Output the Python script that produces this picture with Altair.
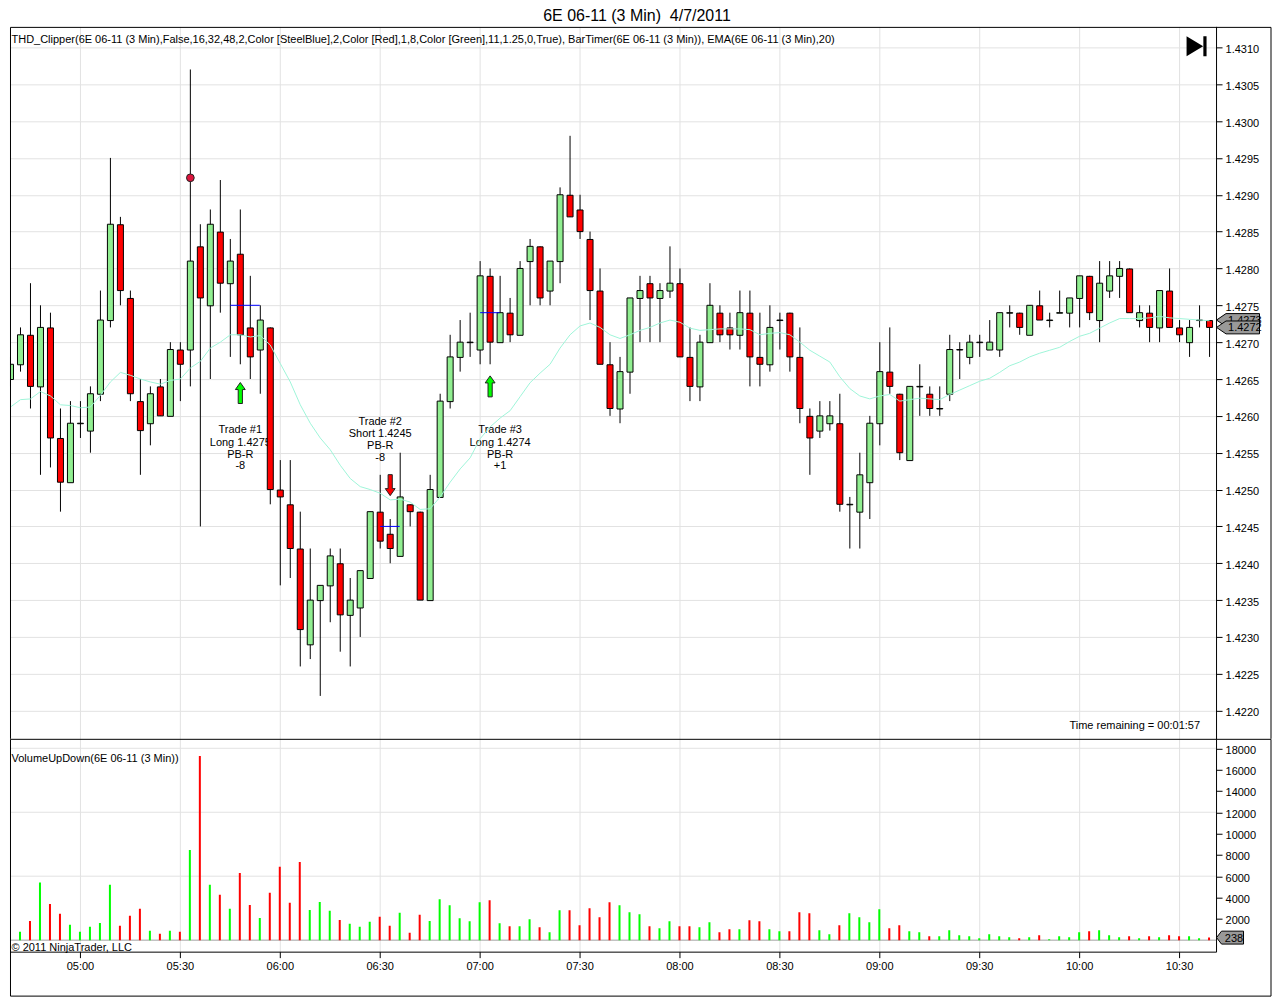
import altair as alt
import pandas as pd

FONT = "Liberation Sans"
TITLE = "6E 06-11 (3 Min) \u00a04/7/2011"
INDICATORS = "THD_Clipper(6E 06-11 (3 Min),False,16,32,48,2,Color [SteelBlue],2,Color [Red],1,8,Color [Green],11,1.25,0,True), BarTimer(6E 06-11 (3 Min)), EMA(6E 06-11 (3 Min),20)"
VOL_LABEL = "VolumeUpDown(6E 06-11 (3 Min))"
COPYRIGHT = "\u00a9 2011 NinjaTrader, LLC"
TIMER = "Time remaining = 00:01:57"

# prices are written as pips above 1.4000
opens = [265,267,271,264,272,257,251,259,258,263,
         273,286,276,262,259,264,260,269,269,283,
         275,285,278,282,272,269,272,250,248,242,
         229,235,237,240,233,234,238,247,244,241,
         248,247,235,249,262,268,270,269,279,270,
         274,271,281,283,277,281,290,288,284,277,
         267,261,266,276,278,276,277,278,268,264,
         270,274,272,271,274,268,267,273,274,268,
         260,258,259,259,248,247,251,259,266,263,
         254,264,263,261,263,269,268,270,269,269,
         274,274,271,275,273,274,274,276,279,273,
         277,279,280,273,274,272,277,272,270,273,273]
highs = [268,272,278,275,274,261,262,262,264,277,
         295,287,277,265,264,265,270,270,307,286,
         288,292,284,288,279,275,272,254,254,247,
         242,237,242,242,238,239,247,252,246,255,
         248,247,252,263,271,273,274,281,280,279,
         276,281,284,283,281,291,298,290,285,280,
         270,268,276,279,279,278,283,280,272,271,
         278,275,274,277,277,274,275,274,274,272,
         261,262,262,263,249,255,260,270,272,263,
         264,267,264,264,271,270,271,271,273,274,
         275,274,275,277,274,277,276,279,279,281,
         281,281,280,275,275,277,280,273,273,275,273]
lows = [264,266,261,252,253,247,251,257,255,262,
        272,275,262,252,256,260,260,262,264,245,
        265,274,268,267,265,263,248,237,238,226,
        227,222,232,228,226,230,238,242,240,241,
        245,235,235,249,261,266,268,267,267,270,
        270,271,275,275,275,278,287,284,273,267,
        260,259,263,270,270,270,276,268,262,262,
        270,270,269,269,264,264,266,269,266,259,
        252,257,258,247,242,242,246,256,263,254,
        254,260,260,260,262,265,267,268,269,268,
        272,271,271,273,272,274,272,272,273,270,
        276,276,274,272,270,270,272,270,268,272,268]
closes = [267,271,264,272,257,251,259,259,263,273,
          286,277,263,258,263,260,269,267,281,276,
          286,278,281,271,268,273,250,249,242,231,
          235,237,241,233,235,239,247,243,242,249,
          247,235,250,262,268,270,270,279,270,274,
          271,280,283,276,281,290,287,285,277,267,
          261,266,276,277,276,277,278,268,264,270,
          275,271,271,274,268,267,272,273,268,261,
          257,260,260,248,248,252,259,266,264,255,
          264,264,261,261,269,269,270,270,270,274,
          274,272,275,273,273,274,276,279,274,278,
          279,280,274,274,272,277,272,271,272,273,272]
ema = [261.2,262.2,262.3,263.3,262.7,261.5,261.4,261.1,261.2,262.8,
       264.6,265.9,265.5,265.0,264.6,264.3,264.8,265.0,266.5,267.4,
       269.2,270.0,271.0,271.0,270.7,270.9,269.6,267.1,264.6,261.5,
       259.0,257.0,255.4,253.3,251.5,250.4,250.0,249.5,248.6,248.7,
       248.3,247.3,247.4,249.0,251.0,252.8,254.3,256.9,258.5,259.7,
       260.7,262.6,264.5,265.8,267.0,269.2,271.0,272.2,272.6,272.0,
       271.0,270.5,271.0,271.6,272.0,272.6,273.0,272.7,271.9,271.6,
       271.7,271.8,271.8,271.8,271.7,271.0,271.2,271.3,271.0,270.0,
       268.9,268.1,267.3,265.3,263.7,262.7,262.3,262.7,262.9,262.0,
       262.2,262.4,262.3,262.2,262.9,263.5,264.1,264.7,265.1,265.9,
       266.8,267.3,268.0,268.5,268.9,269.3,270.1,270.8,271.2,271.9,
       272.6,273.2,273.2,273.2,273.3,273.5,273.3,273.2,273.1,273.0,272.9]
volumes = [310,780,1800,5400,3400,2470,1440,780,1250,1620,
           5200,1340,2280,2940,880,600,880,780,8470,17280,
           5190,4250,2940,6310,3310,2090,4440,6880,3500,7340,
           2840,3590,2750,1900,1530,1250,1720,2190,1340,2560,
           690,2375,1790,3840,3280,2060,1780,3560,3750,1590,
           1310,1310,1970,1220,750,2810,2810,1400,3000,2160,
           3560,3280,2625,2440,1310,1125,1780,1310,1310,1220,
           1690,750,1030,1030,1875,1780,1030,840,840,2625,
           2530,940,560,1400,2530,2160,1690,2900,1125,1400,
           840,750,375,375,940,470,375,190,560,375,
           280,190,280,470,90,375,280,750,840,940,
           470,280,375,190,375,280,470,375,375,190,238]
vol_dirs = "".join(["ggrgrrgggg","grrrgrgrgr","grgrrgrrrr","gggrgggrrg","rrggggggrg","rggrggrrrr",
                    "rgggrggrrg","grrgrrggrr","rggrggggrr","ggrggggggg","grgrggggrg","ggrgrgrrggr"])

x_ticks = [7, 17, 27, 37, 47, 57, 67, 77, 87, 97, 107, 117]
x_labels = ["05:00","05:30","06:00","06:30","07:00","07:30","08:00","08:30","09:00","09:30","10:00","10:30"]
price_ticks = [1.4220,1.4225,1.4230,1.4235,1.4240,1.4245,1.4250,1.4255,1.4260,1.4265,1.4270,1.4275,1.4280,1.4285,1.4290,1.4295,1.4300,1.4305,1.4310]
vol_ticks = [2000,4000,6000,8000,10000,12000,14000,16000,18000]
vol_grid = [6000,12000,18000]

trade_i = [23,23,23,23, 37,37,37,37, 49,49,49,49]
trade_p = [258.3,256.65,255.0,253.4, 259.5,257.87,256.2,254.6, 258.3,256.65,255.0,253.4]
trade_txt = ["Trade #1","Long 1.4275","PB-R","-8","Trade #2","Short 1.4245","PB-R","-8","Trade #3","Long 1.4274","PB-R","+1"]
entry_i = [22,37,47]
entry_i2 = [25,39,49]
entry_p = [275,245,274]
up_i = [23,48]
up_p = [263.1,264.0]
down_i = [38]
down_p = [250.6]
dot_i = [18]
dot_p = [292.3]
tag_p = [273,272]
tag_txt = ["1.4273","1.4272"]
last_vol = 238

def px(v):
    return 1.4 + v / 10000

n = len(opens)
bars = pd.DataFrame({
    "i": list(range(n)),
    "o": [px(v) for v in opens], "h": [px(v) for v in highs],
    "l": [px(v) for v in lows], "c": [px(v) for v in closes],
    "ema": [px(v) for v in ema],
    "vol": volumes,
    "fill": ["#90EE90" if c >= o else "#FF0000" for o, c in zip(opens, closes)],
    "vcol": ["#00FF00" if d == "g" else "#FF0000" for d in vol_dirs],
})

W, H1, H2 = 1207, 713, 213
RIGHT = 1262
LEFT = 0.5
LINE = "#e2e2e2"
TY = 2  # text sits this many pixels lower than Vega's middle baseline
xs = alt.Scale(domain=[0, 120.7], nice=False, zero=False, padding=0)
ys = alt.Scale(domain=[1.4216180, 1.4312847], nice=False, zero=False, padding=0)
vs = alt.Scale(domain=[-1078, 18891], nice=False, zero=False, padding=0)
label_expr = "[" + ",".join(f"'{s}'" for s in x_labels) + "][(datum.value-7)/10]"
XO = 0.5

axis_top_x = alt.Axis(values=x_ticks, labels=False, ticks=False, domain=False, grid=True, gridColor=LINE, title=None)
axis_top_y = alt.Axis(orient="right", values=price_ticks, format=".4f", grid=True, gridColor=LINE, domainColor="black",
                      tickColor="black", tickSize=6, labelFont=FONT, labelFontSize=11, labelColor="black", labelPadding=3,
                      labelOffset=TY, title=None)
axis_bot_x = alt.Axis(values=x_ticks, labelExpr=label_expr, grid=True, gridColor=LINE, domainColor="black", tickColor="black",
                      tickSize=6, labelFont=FONT, labelFontSize=11, labelColor="black", labelPadding=3, title=None)
axis_bot_y = alt.Axis(orient="right", values=vol_ticks, format="d", grid=False, domainColor="black", tickColor="black",
                      tickSize=6, labelFont=FONT, labelFontSize=11, labelColor="black", labelPadding=3,
                      labelOffset=TY, title=None)

XT = alt.X("i:Q", scale=xs, axis=axis_top_x)
XB = alt.X("i:Q", scale=xs, axis=axis_bot_x)

def YP(f, **kw):
    return alt.Y(f, scale=ys, axis=axis_top_y, **kw)

def YV(f, **kw):
    return alt.Y(f, scale=vs, axis=axis_bot_y, **kw)

def txt(s, x, y, **kw):
    return alt.Chart(pd.DataFrame({"t": [s]})).mark_text(font=FONT, fontSize=11, color="black", baseline="middle", **kw).encode(
        text="t:N", x=alt.value(x), y=alt.value(y + TY))

def hrule(x1, x2, y):
    return alt.Chart().mark_rule(color="black", strokeWidth=1).encode(x=alt.value(x1), x2=alt.value(x2), y=alt.value(y))

def vrule(x, y1, y2):
    return alt.Chart().mark_rule(color="black", strokeWidth=1).encode(x=alt.value(x), y=alt.value(y1), y2=alt.value(y2))

trades = alt.Chart(pd.DataFrame({"i": trade_i, "p": [px(v) for v in trade_p], "t": trade_txt})).mark_text(
    font=FONT, fontSize=11, color="black", baseline="middle", xOffset=XO, yOffset=TY).encode(
    x=XT, y=YP("p:Q"), text="t:N")

wicks = alt.Chart(bars).mark_rule(color="black", strokeWidth=1, xOffset=XO).encode(x=XT, y=YP("l:Q"), y2="h:Q")
bodies = alt.Chart(bars).mark_bar(size=6, stroke="black", strokeWidth=1, xOffset=XO, yOffset=0.5, clip=True).encode(
    x=XT, y=YP("o:Q", stack=None), y2="c:Q", fill=alt.Fill("fill:N", scale=None))
ema_line = alt.Chart(bars).mark_line(color="#9ff5d9", strokeWidth=1, xOffset=XO).encode(x=XT, y=YP("ema:Q"))
entries = alt.Chart(pd.DataFrame({"i": entry_i, "j": entry_i2, "p": [px(v) for v in entry_p]})).mark_rule(
    color="#0000FF", strokeWidth=1, xOffset=XO).encode(x=XT, x2="j:Q", y=YP("p:Q"))

ARROW_UP = "M-0.2,1 L-0.2,-0.33 L-0.47,-0.33 L0,-1 L0.47,-0.33 L0.2,-0.33 L0.2,1 Z"
ARROW_DOWN = "M-0.2,-1 L-0.2,0.33 L-0.47,0.33 L0,1 L0.47,0.33 L0.2,0.33 L0.2,-1 Z"
ups = alt.Chart(pd.DataFrame({"i": up_i, "p": [px(v) for v in up_p]})).mark_point(
    shape=ARROW_UP, size=441, filled=True, fill="#00FF00", stroke="#222222", strokeWidth=1, opacity=1, xOffset=XO).encode(
    x=XT, y=YP("p:Q"))
downs = alt.Chart(pd.DataFrame({"i": down_i, "p": [px(v) for v in down_p]})).mark_point(
    shape=ARROW_DOWN, size=441, filled=True, fill="#FF0000", stroke="#222222", strokeWidth=1, opacity=1, xOffset=XO).encode(
    x=XT, y=YP("p:Q"))
dot = alt.Chart(pd.DataFrame({"i": dot_i, "p": [px(v) for v in dot_p]})).mark_point(
    shape="circle", size=60, filled=True, fill="#DC143C", stroke="#222222", strokeWidth=1, opacity=1, xOffset=XO).encode(
    x=XT, y=YP("p:Q"))

TAG = "M-1,0 L-0.56,-0.3 L1,-0.3 L1,0.3 L-0.56,0.3 Z"
tag_layers = []
for p, s in zip(tag_p, tag_txt):
    d = pd.DataFrame({"p": [px(p)], "t": [s]})
    tag_layers.append(alt.Chart(d).mark_point(shape=TAG, size=1849, filled=True, fill="#999999", stroke="black", strokeWidth=1, opacity=1).encode(
        x=alt.value(1229), y=YP("p:Q")))
    tag_layers.append(alt.Chart(d).mark_text(font=FONT, fontSize=11, color="black", align="left", baseline="middle", yOffset=1).encode(
        x=alt.value(1219), y=YP("p:Q"), text="t:N"))

skip_icon = alt.Chart().mark_point(
    shape="M-1,-1 L0.66,0 L-1,1 Z M0.68,-1 L1,-1 L1,1 L0.68,1 Z", size=400, filled=True, fill="black", opacity=1).encode(
    x=alt.value(1187.5), y=alt.value(20))

top = alt.layer(
    trades, wicks, bodies, entries, ema_line, ups, downs, dot, *tag_layers, skip_icon,
    txt(INDICATORS, 1.5, 12, align="left"),
    txt(TIMER, 1191, 698, align="right"),
    vrule(LEFT, 1, H1), vrule(RIGHT, 1, H1),
    hrule(LEFT, RIGHT, 1),
).properties(width=W, height=H1)

vol_gridlines = alt.Chart(pd.DataFrame({"v": vol_grid})).mark_rule(color=LINE, strokeWidth=1).encode(y=YV("v:Q"))
vol_base = alt.Chart(pd.DataFrame({"v": [0]})).mark_rule(color="#a0a0a0", strokeWidth=1).encode(y=YV("v:Q"))
vol_bars = alt.Chart(bars).mark_bar(size=2, clip=True).encode(x=XB, y=YV("vol:Q", stack=None), fill=alt.Fill("vcol:N", scale=None))
vd = pd.DataFrame({"v": [last_vol], "t": [str(last_vol)]})
vol_tag = alt.Chart(vd).mark_point(
    shape="M-1,0 L-0.63,-0.48 L1,-0.48 L1,0.48 L-0.63,0.48 Z", size=729, filled=True, fill="#999999", stroke="black", strokeWidth=1, opacity=1).encode(
    x=alt.value(1221), y=YV("v:Q"))
vol_tag_text = alt.Chart(vd).mark_text(font=FONT, fontSize=11, color="black", align="center", baseline="middle", yOffset=1).encode(
    x=alt.value(1225), y=YV("v:Q"), text="t:N")

bottom = alt.layer(
    vol_gridlines, vol_base, vol_bars, vol_tag, vol_tag_text,
    txt(VOL_LABEL, 1.5, 18, align="left"),
    txt(COPYRIGHT, 1.5, 207, align="left"),
    vrule(LEFT, 0.5, 257.5), vrule(RIGHT, 0.5, 257.5),
    hrule(LEFT, RIGHT, 0.5), hrule(LEFT, RIGHT, 257.5),
).properties(width=W, height=H2)

chart = alt.vconcat(
    top, bottom, spacing=0, bounds="flush",
    title=alt.TitleParams(TITLE, font=FONT, fontSize=16, fontWeight="normal", color="black", anchor="middle", dx=-3, offset=2),
    padding=0, background="white",
).configure_view(stroke=None)

chart.save("out.html", embed_options={"renderer": "svg", "actions": False})
